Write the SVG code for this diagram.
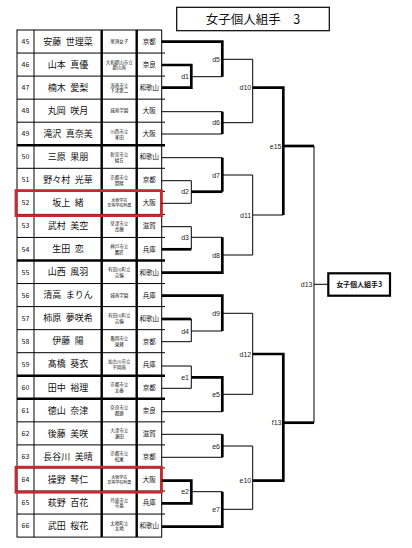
<svg xmlns="http://www.w3.org/2000/svg" width="412" height="548" viewBox="0 0 412 548">
<style>
text{font-family:"Noto Sans CJK JP","Noto Sans",sans-serif;fill:#111}
.num{font-size:7px;text-anchor:middle}
.nm{font-size:9px;text-anchor:middle}
.sc{font-size:4.5px;text-anchor:middle}
.sc2{font-size:4px;text-anchor:middle}
.pf{font-size:6.5px;text-anchor:middle}
.lb{font-size:7px;text-anchor:end;fill:#222;font-family:"Liberation Sans",Arial,sans-serif}
.tn{stroke:#000;stroke-width:1;fill:none}
.tk{stroke:#000;stroke-width:2.7;fill:none}
.grid{stroke:#000;stroke-width:1;fill:none}
.gridk{stroke:#000;stroke-width:2.4;fill:none}
.red{stroke:#c8282e;stroke-width:2.8;fill:none}
</style>
<rect width="412" height="548" fill="#fff"/>
<g id="title">
<rect x="176.7" y="7.3" width="152.6" height="23.4" fill="#fff" stroke="#000" stroke-width="1.2"/>
<text x="253" y="23.6" style="font-size:12.5px;text-anchor:middle">女子個人組手　3</text>
</g>
<g id="table">
<rect class="grid" x="17" y="30" width="144.7" height="507.1"/>
<line class="grid" x1="34" y1="30" x2="34" y2="537.1"/>
<line class="gridk" x1="101.7" y1="30" x2="101.7" y2="537.1"/>
<line class="gridk" x1="136.7" y1="30" x2="136.7" y2="537.1"/>
<g class="grid">
<line x1="17" y1="53.05" x2="165" y2="53.05"/>
<line x1="17" y1="76.1" x2="165" y2="76.1"/>
<line x1="17" y1="99.15" x2="165" y2="99.15"/>
<line x1="17" y1="122.2" x2="165" y2="122.2"/>
<line x1="17" y1="168.3" x2="165" y2="168.3"/>
<line x1="17" y1="191.35" x2="165" y2="191.35"/>
<line x1="17" y1="214.4" x2="165" y2="214.4"/>
<line x1="17" y1="237.45" x2="165" y2="237.45"/>
<line x1="17" y1="283.55" x2="165" y2="283.55"/>
<line x1="17" y1="306.6" x2="165" y2="306.6"/>
<line x1="17" y1="329.65" x2="165" y2="329.65"/>
<line x1="17" y1="352.7" x2="165" y2="352.7"/>
<line x1="17" y1="421.85" x2="165" y2="421.85"/>
<line x1="17" y1="444.9" x2="165" y2="444.9"/>
<line x1="17" y1="467.95" x2="165" y2="467.95"/>
<line x1="17" y1="491" x2="165" y2="491"/>
<line x1="17" y1="514.05" x2="165" y2="514.05"/>
</g>
<g class="gridk">
<line x1="17" y1="145.25" x2="165" y2="145.25"/>
<line x1="17" y1="260.5" x2="165" y2="260.5"/>
<line x1="17" y1="375.75" x2="165" y2="375.75"/>
<line x1="17" y1="398.8" x2="165" y2="398.8"/>
</g>
</g>
<g id="p45"><text class="num" x="25.5" y="44">45</text><text class="nm" x="68" y="44.7">安藤&#x2002;世理菜</text><text class="sc" x="119.2" y="43.2">華頂女子</text><text class="pf" x="149.2" y="44">京都</text></g>
<g id="p46"><text class="num" x="25.5" y="67.1">46</text><text class="nm" x="68" y="67.8">山本&#x2002;真優</text><text class="sc" x="119.2" y="63.6">大和郡山市立</text><text class="sc" x="119.2" y="69.4">郡山南</text><text class="pf" x="149.2" y="67.1">奈良</text></g>
<g id="p47"><text class="num" x="25.5" y="90.1">47</text><text class="nm" x="68" y="90.8">楠木&#x2002;愛梨</text><text class="sc" x="119.2" y="86.6">海南市立</text><text class="sc" x="119.2" y="92.4">下津第二</text><text class="pf" x="149.2" y="90.1">和歌山</text></g>
<g id="p48"><text class="num" x="25.5" y="113.2">48</text><text class="nm" x="68" y="113.9">丸岡&#x2002;咲月</text><text class="sc" x="119.2" y="112.4">城南学園</text><text class="pf" x="149.2" y="113.2">大阪</text></g>
<g id="p49"><text class="num" x="25.5" y="136.2">49</text><text class="nm" x="68" y="136.9">滝沢&#x2002;真奈美</text><text class="sc" x="119.2" y="132.7">川西市立</text><text class="sc" x="119.2" y="138.5">多田</text><text class="pf" x="149.2" y="136.2">大阪</text></g>
<g id="p50"><text class="num" x="25.5" y="159.3">50</text><text class="nm" x="68" y="160">三原&#x2002;果朋</text><text class="sc" x="119.2" y="155.8">新宮市立</text><text class="sc" x="119.2" y="161.6">緑丘</text><text class="pf" x="149.2" y="159.3">和歌山</text></g>
<g id="p51"><text class="num" x="25.5" y="182.3">51</text><text class="nm" x="68" y="183">野々村&#x2002;光華</text><text class="sc" x="119.2" y="178.8">京都市立</text><text class="sc" x="119.2" y="184.6">開睛</text><text class="pf" x="149.2" y="182.3">京都</text></g>
<g id="p52"><text class="num" x="25.5" y="205.4">52</text><text class="nm" x="68" y="206.1">坂上&#x2002;緒</text><text class="sc2" x="119.2" y="202">大阪学芸</text><text class="sc2" x="119.2" y="207.4">高等学校附属</text><text class="pf" x="149.2" y="205.4">大阪</text></g>
<g id="p53"><text class="num" x="25.5" y="228.4">53</text><text class="nm" x="68" y="229.1">武村&#x2002;美空</text><text class="sc" x="119.2" y="224.9">草津市立</text><text class="sc" x="119.2" y="230.7">高穂</text><text class="pf" x="149.2" y="228.4">滋賀</text></g>
<g id="p54"><text class="num" x="25.5" y="251.5">54</text><text class="nm" x="68" y="252.2">生田&#x2002;恋</text><text class="sc" x="119.2" y="248">神戸市立</text><text class="sc" x="119.2" y="253.8">鷹匠</text><text class="pf" x="149.2" y="251.5">兵庫</text></g>
<g id="p55"><text class="num" x="25.5" y="274.5">55</text><text class="nm" x="68" y="275.2">山西&#x2002;風羽</text><text class="sc" x="119.2" y="271">有田川町立</text><text class="sc" x="119.2" y="276.8">吉備</text><text class="pf" x="149.2" y="274.5">和歌山</text></g>
<g id="p56"><text class="num" x="25.5" y="297.6">56</text><text class="nm" x="68" y="298.3">清高&#x2002;まりん</text><text class="sc" x="119.2" y="296.8">城南学園</text><text class="pf" x="149.2" y="297.6">兵庫</text></g>
<g id="p57"><text class="num" x="25.5" y="320.6">57</text><text class="nm" x="68" y="321.3">柿原&#x2002;夢咲希</text><text class="sc" x="119.2" y="317.1">有田川町立</text><text class="sc" x="119.2" y="322.9">吉備</text><text class="pf" x="149.2" y="320.6">和歌山</text></g>
<g id="p58"><text class="num" x="25.5" y="343.7">58</text><text class="nm" x="68" y="344.4">伊藤&#x2002;陽</text><text class="sc" x="119.2" y="340.2">亀岡市立</text><text class="sc" x="119.2" y="346">東輝</text><text class="pf" x="149.2" y="343.7">京都</text></g>
<g id="p59"><text class="num" x="25.5" y="366.7">59</text><text class="nm" x="68" y="367.4">髙橋&#x2002;葵衣</text><text class="sc" x="119.2" y="363.2">加古川市立</text><text class="sc" x="119.2" y="369">平岡南</text><text class="pf" x="149.2" y="366.7">兵庫</text></g>
<g id="p60"><text class="num" x="25.5" y="389.8">60</text><text class="nm" x="68" y="390.5">田中&#x2002;裕理</text><text class="sc" x="119.2" y="386.3">京都市立</text><text class="sc" x="119.2" y="392.1">太秦</text><text class="pf" x="149.2" y="389.8">京都</text></g>
<g id="p61"><text class="num" x="25.5" y="412.8">61</text><text class="nm" x="68" y="413.5">徳山&#x2002;奈津</text><text class="sc" x="119.2" y="409.3">奈良市立</text><text class="sc" x="119.2" y="415.1">都跡</text><text class="pf" x="149.2" y="412.8">奈良</text></g>
<g id="p62"><text class="num" x="25.5" y="435.9">62</text><text class="nm" x="68" y="436.6">後藤&#x2002;美咲</text><text class="sc" x="119.2" y="432.4">大津市立</text><text class="sc" x="119.2" y="438.2">瀬田</text><text class="pf" x="149.2" y="435.9">滋賀</text></g>
<g id="p63"><text class="num" x="25.5" y="458.9">63</text><text class="nm" x="68" y="459.6">長谷川&#x2002;美晴</text><text class="sc" x="119.2" y="455.4">京都市立</text><text class="sc" x="119.2" y="461.2">松尾</text><text class="pf" x="149.2" y="458.9">京都</text></g>
<g id="p64"><text class="num" x="25.5" y="482">64</text><text class="nm" x="68" y="482.7">操野&#x2002;琴仁</text><text class="sc2" x="119.2" y="478.6">大阪学芸</text><text class="sc2" x="119.2" y="484">高等学校附属</text><text class="pf" x="149.2" y="482">大阪</text></g>
<g id="p65"><text class="num" x="25.5" y="505">65</text><text class="nm" x="68" y="505.7">萩野&#x2002;百花</text><text class="sc" x="119.2" y="501.5">丹波市立</text><text class="sc" x="119.2" y="507.3">市島</text><text class="pf" x="149.2" y="505">兵庫</text></g>
<g id="p66"><text class="num" x="25.5" y="528.1">66</text><text class="nm" x="68" y="528.8">武田&#x2002;桜花</text><text class="sc" x="119.2" y="524.6">太地町立</text><text class="sc" x="119.2" y="530.4">太地</text><text class="pf" x="149.2" y="528.1">和歌山</text></g>
<g id="highlights">
<rect class="red" x="16" y="190.6" width="145.4" height="25"/>
<rect class="red" x="16" y="467.2" width="145.4" height="25"/>
</g>
<g id="connectors">
<g class="tk">
<polyline points="161.7,41.7 222.3,41.7 222.3,76.7"/>
<polyline points="161.7,65 191.3,65 191.3,87.7 161.7,87.7"/>
<line x1="222.3" y1="111.7" x2="222.3" y2="134"/>
<polyline points="252.7,87.7 283.3,87.7 283.3,215"/>
<line x1="283.3" y1="146" x2="314" y2="146"/>
<line x1="222.3" y1="157.7" x2="222.3" y2="191.7"/>
<line x1="191.3" y1="191.7" x2="222.3" y2="191.7"/>
<line x1="161.7" y1="249.3" x2="191.3" y2="249.3"/>
<polyline points="222.3,237.3 222.3,272.7 161.7,272.7"/>
<polyline points="161.7,295.7 222.3,295.7 222.3,331"/>
<line x1="161.7" y1="319" x2="191.3" y2="319"/>
<polyline points="191.3,377.3 222.3,377.3 222.3,411.7"/>
<polyline points="252.7,354 283.3,354 283.3,480.7 252.7,480.7"/>
<line x1="283.3" y1="422.7" x2="314" y2="422.7"/>
<line x1="222.3" y1="434.3" x2="222.3" y2="457.3"/>
<polyline points="161.7,480.7 191.3,480.7 191.3,503.3 161.7,503.3"/>
<polyline points="222.3,491.7 222.3,526.7 161.7,526.7"/>
</g>
<g class="tn">
<line x1="191.3" y1="76.7" x2="222.3" y2="76.7"/>
<line x1="222.3" y1="59.3" x2="252.7" y2="59.3"/>
<line x1="161.7" y1="111.7" x2="222.3" y2="111.7"/>
<line x1="161.7" y1="134" x2="222.3" y2="134"/>
<line x1="222.3" y1="122.7" x2="252.7" y2="122.7"/>
<line x1="252.7" y1="59.3" x2="252.7" y2="122.7"/>
<line x1="314" y1="146" x2="314" y2="422.7"/>
<line x1="314" y1="284.3" x2="328.3" y2="284.3"/>
<line x1="161.7" y1="157.7" x2="222.3" y2="157.7"/>
<polyline points="161.7,180.7 191.3,180.7 191.3,203.3 161.7,203.3"/>
<line x1="222.3" y1="175" x2="252.7" y2="175"/>
<polyline points="161.7,226.7 191.3,226.7 191.3,249.3"/>
<line x1="191.3" y1="237.3" x2="222.3" y2="237.3"/>
<line x1="222.3" y1="255" x2="252.7" y2="255"/>
<line x1="252.7" y1="175" x2="252.7" y2="255"/>
<line x1="252.7" y1="215" x2="283.3" y2="215"/>
<polyline points="191.3,319 191.3,341.7 161.7,341.7"/>
<line x1="191.3" y1="331" x2="222.3" y2="331"/>
<line x1="222.3" y1="313.3" x2="252.7" y2="313.3"/>
<polyline points="161.7,366 191.3,366 191.3,388.3 161.7,388.3"/>
<line x1="161.7" y1="411.7" x2="222.3" y2="411.7"/>
<line x1="222.3" y1="394.3" x2="252.7" y2="394.3"/>
<line x1="252.7" y1="313.3" x2="252.7" y2="394.3"/>
<line x1="161.7" y1="434.3" x2="222.3" y2="434.3"/>
<line x1="161.7" y1="457.3" x2="222.3" y2="457.3"/>
<line x1="222.3" y1="446" x2="252.7" y2="446"/>
<line x1="191.3" y1="491.7" x2="222.3" y2="491.7"/>
<line x1="222.3" y1="509.3" x2="252.7" y2="509.3"/>
<line x1="252.7" y1="446" x2="252.7" y2="509.3"/>
</g>
</g>
<g id="match-labels">
<text class="lb" x="189" y="79.2">d1</text>
<text class="lb" x="220" y="61.8">d5</text>
<text class="lb" x="220" y="125.2">d6</text>
<text class="lb" x="251.2" y="90.2">d10</text>
<text class="lb" x="281.5" y="148.5">e15</text>
<text class="lb" x="220" y="177.5">d7</text>
<text class="lb" x="189" y="194.2">d2</text>
<text class="lb" x="251.2" y="217.5">d11</text>
<text class="lb" x="189" y="239.8">d3</text>
<text class="lb" x="220" y="257.5">d8</text>
<text class="lb" x="312.5" y="286.8">d13</text>
<text class="lb" x="220" y="315.8">d9</text>
<text class="lb" x="189" y="333.5">d4</text>
<text class="lb" x="251.2" y="356.5">d12</text>
<text class="lb" x="189" y="379.8">e1</text>
<text class="lb" x="220" y="396.8">e5</text>
<text class="lb" x="281.5" y="425.2">f13</text>
<text class="lb" x="220" y="448.5">e6</text>
<text class="lb" x="251.2" y="483.2">e10</text>
<text class="lb" x="189" y="494.2">e2</text>
<text class="lb" x="220" y="511.8">e7</text>
</g>
<g id="final">
<rect x="328.3" y="273.3" width="61.7" height="22.4" fill="#fff" stroke="#000" stroke-width="2.2"/>
<text x="359.2" y="286.9" style="font-size:7px;text-anchor:middle;font-weight:bold">女子個人組手3</text>
</g>
</svg>
